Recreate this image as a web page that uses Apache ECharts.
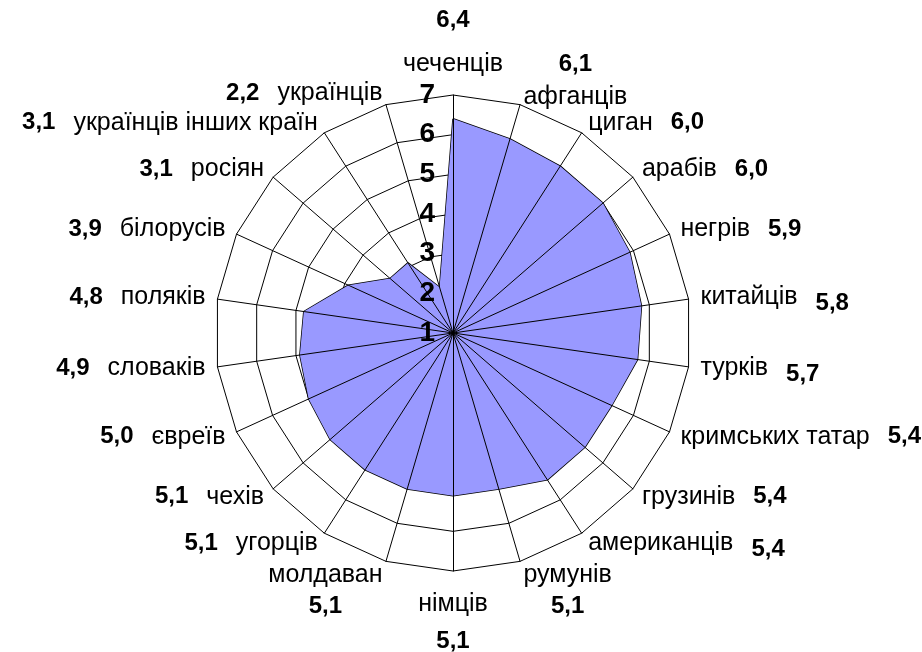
<!DOCTYPE html>
<html>
<head>
<meta charset="utf-8">
<script src="https://cdn.jsdelivr.net/npm/echarts@6/dist/echarts.min.js"></script>
<style>
  html, body { margin: 0; padding: 0; background: #fff; }
  #chart { width: 922px; height: 652px; }
</style>
</head>
<body>
<div id="chart"></div>
<script>
// категорії за годинниковою стрілкою, починаючи згори
const categories = [
  'чеченців', 'афганців', 'циган', 'арабів', 'негрів', 'китайців', 'турків',
  'кримських татар', 'грузинів', 'американців', 'румунів', 'німців', 'молдаван',
  'угорців', 'чехів', 'євреїв', 'словаків', 'поляків', 'білорусів', 'росіян',
  'українців інших країн', 'українців'
]
const values = [
  6.4, 6.1, 6.0, 6.0, 5.9, 5.8, 5.7, 5.4, 5.4, 5.4, 5.1, 5.1, 5.1,
  5.1, 5.1, 5.0, 4.9, 4.8, 3.9, 3.1, 3.1, 2.2
]
const valueLabels = [
  '6,4', '6,1', '6,0', '6,0', '5,9', '5,8', '5,7', '5,4', '5,4', '5,4', '5,1', '5,1', '5,1',
  '5,1', '5,1', '5,0', '4,9', '4,8', '3,9', '3,1', '3,1', '2,2'
]
const scaleMin = 1
const scaleMax = 7

// де стоїть число відносно назви
const labelSide = [
  'top', 'top2', 'right', 'right', 'right', 'rightLow', 'rightLow', 'right', 'right', 'rightLow',
  'bottom2', 'bottom', 'bottom2', 'left', 'left', 'left', 'left', 'left', 'left', 'left',
  'left', 'left'
]

// ECharts кладе осі проти годинникової стрілки — розвертаємо порядок
const order = [0]
for (let i = categories.length - 1; i > 0; i--) order.push(i)

const makeIndicator = (withLabel) =>
  order.map((i, k) => {
    const item = { name: categories[i], min: scaleMin, max: scaleMax }
    if (withLabel && k === 0) {
      item.axisLabel = {
        show: true,
        showMinLabel: true,
        showMaxLabel: true,
        hideOverlap: false,
        fontSize: 28,
        fontWeight: 'bold',
        color: '#000',
        fontFamily: 'Liberation Sans',
        margin: 18
      }
    }
    return item
  })

const formatName = (name) => {
  const i = categories.indexOf(name)
  const v = valueLabels[i]
  switch (labelSide[i]) {
    case 'top':
      return `{vt|${v}}\n{nt|${name}}`
    case 'top2':
      return `{vc|${v}}\n{n|${name}}\n{g|}`
    case 'bottom':
      return `{t|}\n{n|${name}}\n{t|}\n{vc|${v}}`
    case 'bottom2':
      return `{sp|}\n{n|${name}}\n{vc|${v}}`
    case 'left':
      return `{v|${v}}{s|}{n|${name}}`
    case 'rightLow':
      return `{n|${name}}{s|}{vd|${v}}`
    default:
      return `{n|${name}}{s|}{v|${v}}`
  }
}

const fontName = 'Liberation Sans'
const myChart = echarts.init(document.getElementById('chart'))
const option = {
  backgroundColor: '#fff',
  animation: false,
  radar: [
    {
      center: [453, 333],
      radius: 238,
      shape: 'polygon',
      startAngle: 90,
      splitNumber: 6,
      nameGap: 12,
      z: 0,
      indicator: makeIndicator(false),
      axisName: {
        formatter: formatName,
        rich: {
          n: { fontSize: 25, color: '#000', fontFamily: fontName, lineHeight: 32 },
          nt: { fontSize: 25, color: '#000', fontFamily: fontName, lineHeight: 38 },
          v: { fontSize: 24, fontWeight: 'bold', color: '#000', fontFamily: fontName, lineHeight: 32 },
          vd: { fontSize: 24, fontWeight: 'bold', color: '#000', fontFamily: fontName, lineHeight: 32, padding: [12, 0, 0, 0] },
          vc: { fontSize: 24, fontWeight: 'bold', color: '#000', fontFamily: fontName, lineHeight: 32, align: 'center' },
          vt: { fontSize: 24, fontWeight: 'bold', color: '#000', fontFamily: fontName, lineHeight: 50, align: 'center' },
          s: { width: 18 },
          g: { height: 25, lineHeight: 25 },
          t: { height: 5, lineHeight: 5 },
          sp: { height: 36, lineHeight: 36 }
        }
      },
      axisLabel: { show: false },
      axisLine: { show: false },
      splitLine: { lineStyle: { color: '#000', width: 1 } },
      splitArea: { show: false }
    },
    {
      // спиці та підписи шкали поверх заливки
      center: [453, 333],
      radius: 238,
      shape: 'polygon',
      startAngle: 90,
      splitNumber: 6,
      z: 5,
      indicator: makeIndicator(true),
      axisName: { show: false },
      axisLabel: { show: false },
      axisLine: { lineStyle: { color: '#000', width: 1 } },
      splitLine: { show: false },
      splitArea: { show: false }
    }
  ],
  series: [
    {
      type: 'radar',
      radarIndex: 0,
      symbol: 'none',
      lineStyle: { color: '#000', width: 1.5 },
      areaStyle: { color: '#9999FF', opacity: 1 },
      data: [{ value: order.map((i) => values[i]) }]
    }
  ]
}
myChart.setOption(option)
</script>
</body>
</html>
